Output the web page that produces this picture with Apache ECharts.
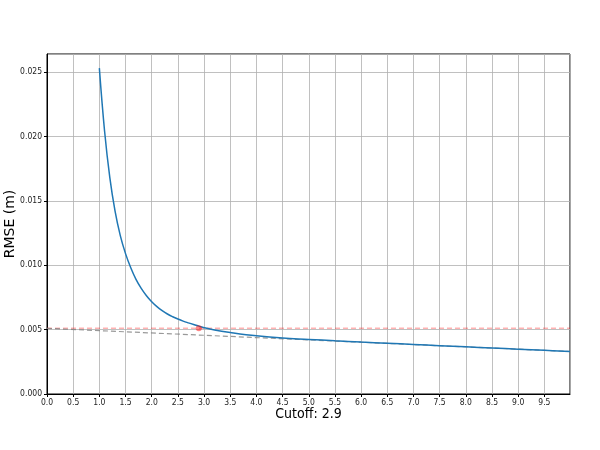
<!DOCTYPE html>
<html>
<head>
<meta charset="utf-8">
<script src="https://cdn.jsdelivr.net/npm/echarts@6/dist/echarts.min.js"></script>
<style>html,body{margin:0;padding:0;background:#fff;}#c{width:600px;height:450px;}</style>
</head>
<body>
<div id="c"></div>
<script>
// Blue RMSE curve (cutoff, RMSE in m)
const cutoffX = [1.0,1.1,1.2,1.3,1.4,1.5,1.6,1.7,1.8,1.9,2.0,2.1,2.2,2.3,2.4,2.5,2.6,2.7,2.8,2.9,3.0,3.2,3.5,4.0,4.5,5.0,5.5,6.0,6.5,7.0,7.5,8.0,8.5,9.0,9.5,9.99];
const rmseY = [0.0253,0.0204,0.0168,0.0142,0.0123,0.0109,0.0098,0.0089,0.0082,0.00763,0.00716,0.00678,0.00647,0.00621,0.00600,0.00582,0.00566,0.00552,0.00539,0.00527,0.00515,0.00497,0.00478,0.00452,0.00434,0.00424,0.00413,0.00403,0.00394,0.00385,0.00375,0.00366,0.00357,0.00348,0.00339,0.00330];
// Gray dashed trend line
const trendX = [0, 9.99];
const trendY = [0.00510, 0.00330];
// Red dashed threshold line
const thresholdX = [0, 9.99];
const thresholdY = [0.00511, 0.00511];
// Selected cutoff point
const cutoffPoint = [2.9, 0.00511];
const xLabel = 'Cutoff: 2.9';
const yLabel = 'RMSE (m)';

const chart = echarts.init(document.getElementById('c'));
const font = 'DejaVu Sans';
const fontC = '"DejaVu Sans Condensed", "Liberation Sans", sans-serif';
chart.setOption({
  animation: false,
  backgroundColor: '#fff',
  grid: {left: 47, top: 54, width: 523, height: 340, containLabel: false, outerBoundsMode: 'none',
         show: true, borderColor: '#000', borderWidth: 1, backgroundColor: 'transparent'},
  xAxis: {
    type: 'value', min: 0, max: 9.99, interval: 0.5,
    name: xLabel, nameLocation: 'middle', nameGap: 13, nameMoveOverlap: false,
    nameTextStyle: {fontFamily: fontC, fontSize: 14, color: '#000'},
    axisLine: {show: true, onZero: false, lineStyle: {color: '#000', width: 1}},
    axisTick: {show: true, length: 3, lineStyle: {color: '#000'}},
    axisLabel: {fontFamily: fontC, fontSize: 8.5, color: '#222', margin: 4, showMaxLabel: false, formatter: v => v.toFixed(1)},
    splitLine: {show: true, lineStyle: {color: '#b0b0b0', width: 0.8}}
  },
  yAxis: {
    type: 'value', min: 0, max: 0.0264, interval: 0.005,
    name: yLabel, nameLocation: 'middle', nameGap: 30, nameMoveOverlap: false,
    nameTextStyle: {fontFamily: font, fontSize: 14, color: '#000'},
    axisLine: {show: true, lineStyle: {color: '#000', width: 1}},
    axisTick: {show: true, length: 3, lineStyle: {color: '#000'}},
    axisLabel: {fontFamily: fontC, fontSize: 8.5, color: '#222', margin: 5, showMaxLabel: false, formatter: v => v.toFixed(3)},
    splitLine: {show: true, lineStyle: {color: '#b0b0b0', width: 0.8}}
  },
  series: [
    {
      type: 'line', data: thresholdX.map((x, i) => [x, thresholdY[i]]), symbol: 'none',
      lineStyle: {color: 'rgba(255,0,0,0.3)', width: 1.5, type: [5, 3]}, z: 2
    },
    {
      type: 'line', data: trendX.map((x, i) => [x, trendY[i]]), symbol: 'none',
      lineStyle: {color: 'rgba(128,128,128,0.8)', width: 1.2, type: [5, 3]}, z: 2
    },
    {
      type: 'line', data: cutoffX.map((x, i) => [x, rmseY[i]]), symbol: 'none',
      smooth: 0.4,
      lineStyle: {color: '#1f77b4', width: 1.5}, z: 3
    },
    {
      type: 'scatter', data: [cutoffPoint], symbolSize: 6,
      itemStyle: {color: 'rgba(255,0,0,0.6)'}, z: 4
    }
  ]
});
</script>
</body>
</html>
